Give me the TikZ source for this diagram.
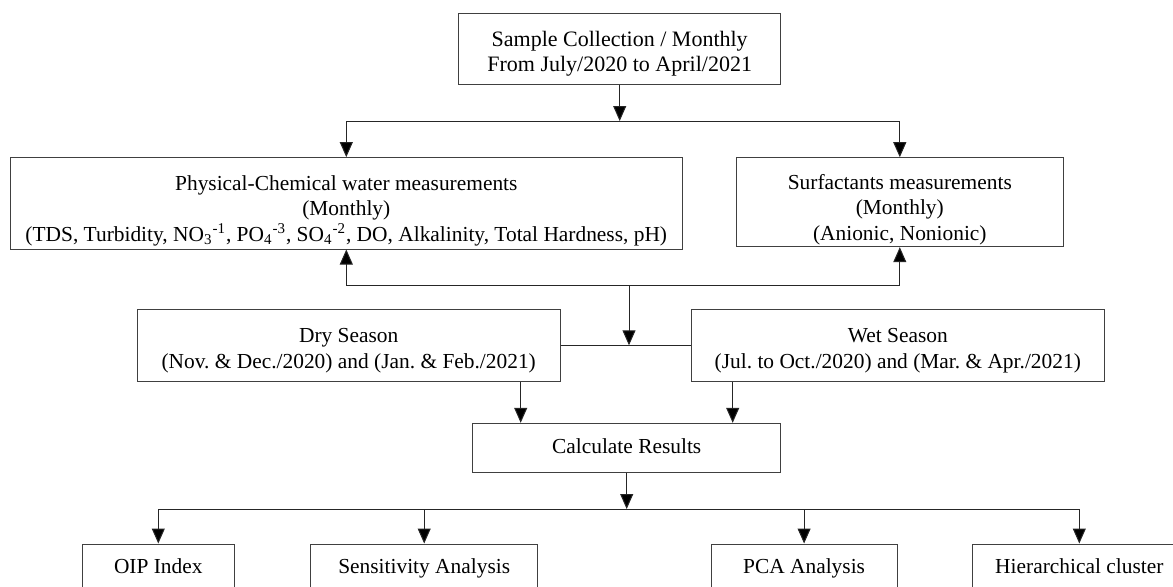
\documentclass[tikz,border=0pt]{standalone}
\usepackage{fontspec}
\setmainfont{Liberation Serif}
\usetikzlibrary{positioning, arrows.meta, calc}
\frenchspacing
\newcommand{\topgap}{\rule{0pt}{12.6pt}}
\newcommand{\bigtopgap}{\rule{0pt}{14.7pt}}

\begin{document}
\begin{tikzpicture}[x=0.5pt, y=-0.5pt,
	box/.style={draw=black!75, line width=0.5pt, inner sep=0pt, align=center, font=\fontsize{10.7}{12.8}\selectfont},
	onebox/.style={box, minimum height=24.5pt, text height=7.2pt, text depth=2pt},
	arr/.style={draw=black!85, line width=0.5pt, -{Triangle[length=7.5pt, width=6.5pt, fill=black]}},
	ln/.style={draw=black!85, line width=0.5pt}]
	\useasboundingbox (0,0) rectangle (1173,586);
	% boxes
	\node[box, minimum width=161pt, minimum height=35.5pt, font=\fontsize{11}{12.6}\selectfont] (sample) at (619.7,48.5) {\topgap Sample Collection / Monthly\\ From July/2020 to April/2021};
	\node[box, minimum width=336.3pt, minimum height=45.7pt] (phys) at (346.3,203.3) {\bigtopgap Physical-Chemical water measurements\\ (Monthly)\\ (TDS, Turbidity, NO\textsubscript{3}\textsuperscript{-1}, PO\textsubscript{4}\textsuperscript{-3}, SO\textsubscript{4}\textsuperscript{-2}, DO, Alkalinity, Total Hardness, pH)};
	\node[box, minimum width=163.2pt, minimum height=44.5pt] (surf) at (899.8,202.2) {\bigtopgap Surfactants measurements\\ (Monthly)\\ (Anionic, Nonionic)};
	\node[box, minimum width=211.3pt, minimum height=36.3pt] (dry) at (348.7,345.3) {\topgap Dry Season\\ (Nov. \& Dec./2020) and (Jan. \& Feb./2021)};
	\node[box, minimum width=206.8pt, minimum height=36.3pt] (wet) at (897.8,345.3) {\topgap Wet Season\\ (Jul. to Oct./2020) and (Mar. \& Apr./2021)};
	\node[onebox, minimum width=154pt] (calc) at (626.7,447.8) {Calculate Results};
	\node[onebox, minimum width=76pt] (oip) at (158.3,568.5) {OIP Index};
	\node[onebox, minimum width=113.5pt] (sens) at (424.2,568.5) {Sensitivity Analysis};
	\node[onebox, minimum width=92.9pt] (pca) at (804.1,568.5) {PCA Analysis};
	\node[onebox, minimum width=106.7pt] (hier) at (1079.3,568.5) {Hierarchical cluster};
	% junctions
	\coordinate (upper) at (619.7,121);
	\coordinate (lower) at (629,285.7);
	\coordinate (bottom) at (626.7,509);
	\coordinate (calcleft) at ([xshift=-53pt]calc.north);
	\coordinate (calcright) at ([xshift=53pt]calc.north);
	% connectors
	\draw[arr] (sample.south) -- (upper);
	\draw[ln] (upper -| phys.north) -- (upper -| surf.north);
	\draw[arr] (upper -| phys.north) -- (phys.north);
	\draw[arr] (upper -| surf.north) -- (surf.north);
	\draw[ln] (lower -| phys.south) -- (lower -| surf.south);
	\draw[arr] (lower -| phys.south) -- (phys.south);
	\draw[arr] (lower -| surf.south) -- (surf.south);
	\draw[arr] (lower) -- (lower |- dry.east);
	\draw[ln] (dry.east) -- (wet.west);
	\draw[arr] (dry.south -| calcleft) -- (calcleft);
	\draw[arr] (wet.south -| calcright) -- (calcright);
	\draw[arr] (calc.south) -- (bottom);
	\draw[ln] (bottom -| oip.north) -- (bottom -| hier.north);
	\foreach \n in {oip, sens, pca, hier}
		\draw[arr] (bottom -| \n.north) -- (\n.north);
\end{tikzpicture}
\end{document}
